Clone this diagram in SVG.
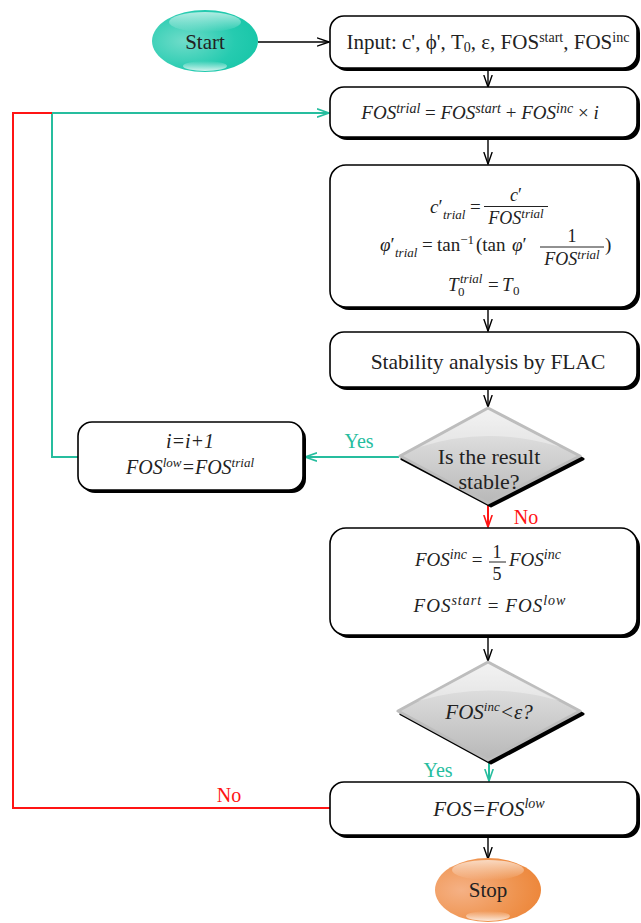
<svg xmlns="http://www.w3.org/2000/svg" width="641" height="923" viewBox="0 0 641 923">
<style>
.box{fill:#fff;stroke:#000;stroke-width:1.6}
.shd{fill:#000}
.t{font-family:"Liberation Serif","Times New Roman",serif;fill:#222}
.m{font-family:"Liberation Serif","Times New Roman",serif;font-style:italic;fill:#222}
.n{font-style:normal}
.k{stroke:#000;stroke-width:1.4;fill:none}
.g{stroke:#26bd9e;stroke-width:2;fill:none}
.r{stroke:#ff1414;stroke-width:2;fill:none}
.bar{stroke:#222;stroke-width:1}
</style>
<defs>
<marker id="ak" viewBox="0 0 13 10" refX="12" refY="5" markerWidth="13" markerHeight="10" markerUnits="userSpaceOnUse" orient="auto"><path d="M0,0.8 L12,5 L0,9.2" fill="none" stroke="#000" stroke-width="1.4"/></marker>
<marker id="ag" viewBox="0 0 13 10" refX="12" refY="5" markerWidth="13" markerHeight="10" markerUnits="userSpaceOnUse" orient="auto"><path d="M0,0.8 L12,5 L0,9.2" fill="none" stroke="#26bd9e" stroke-width="1.6"/></marker>
<marker id="ar" viewBox="0 0 13 10" refX="12" refY="5" markerWidth="13" markerHeight="10" markerUnits="userSpaceOnUse" orient="auto"><path d="M0,0.8 L12,5 L0,9.2" fill="none" stroke="#ff1414" stroke-width="1.6"/></marker>
<radialGradient id="gTeal" cx="0.3" cy="0.5" r="0.8"><stop offset="0" stop-color="#6fdcc9"/><stop offset="0.6" stop-color="#26cbb0"/><stop offset="1" stop-color="#14c4a6"/></radialGradient>
<radialGradient id="gOr" cx="0.25" cy="0.5" r="0.85"><stop offset="0" stop-color="#f5b185"/><stop offset="0.6" stop-color="#ef9450"/><stop offset="1" stop-color="#ec8233"/></radialGradient>
<linearGradient id="gHi" x1="0" y1="0" x2="0" y2="1"><stop offset="0" stop-color="#fff" stop-opacity="0.65"/><stop offset="1" stop-color="#fff" stop-opacity="0"/></linearGradient>
<linearGradient id="gHb" x1="0" y1="0" x2="0" y2="1"><stop offset="0" stop-color="#fff" stop-opacity="0"/><stop offset="1" stop-color="#fff" stop-opacity="0.8"/></linearGradient>
<linearGradient id="gDia" x1="0" y1="0" x2="0" y2="1"><stop offset="0" stop-color="#ececec"/><stop offset="0.5" stop-color="#d2d2d2"/><stop offset="1" stop-color="#b8b8b8"/></linearGradient>
</defs>

<g id="connectors">
<line class="k" x1="258" y1="42" x2="329" y2="42" marker-end="url(#ak)"/>
<line class="k" x1="488" y1="70" x2="488" y2="87" marker-end="url(#ak)"/>
<line class="k" x1="488" y1="140" x2="488" y2="164" marker-end="url(#ak)"/>
<line class="k" x1="488" y1="310" x2="488" y2="331" marker-end="url(#ak)"/>
<line class="k" x1="488" y1="390" x2="488" y2="407" marker-end="url(#ak)"/>
<line class="r" x1="488" y1="505" x2="488" y2="527" marker-end="url(#ar)"/>
<line class="g" x1="399" y1="457" x2="305" y2="457" marker-end="url(#ag)"/>
<polyline class="g" points="78,457 52,457 52,113 329,113" marker-end="url(#ag)"/>
<polyline class="r" points="330,808 13,808 13,113 52,113"/>
<line class="k" x1="488" y1="638" x2="488" y2="661" marker-end="url(#ak)"/>
<line class="g" x1="489" y1="761" x2="489" y2="781" marker-end="url(#ag)"/>
<line class="k" x1="488" y1="838" x2="488" y2="859" marker-end="url(#ak)"/>
<text class="t" x="359" y="448" font-size="20" text-anchor="middle" style="fill:#26bd9e">Yes</text>
<text class="t" x="526" y="524" font-size="20" text-anchor="middle" style="fill:#ff1414">No</text>
<text class="t" x="438" y="777" font-size="20" text-anchor="middle" style="fill:#26bd9e">Yes</text>
<text class="t" x="229" y="802" font-size="20" text-anchor="middle" style="fill:#ff1414">No</text>
</g>

<g id="start">
<ellipse cx="205" cy="41" rx="53" ry="31" fill="url(#gTeal)"/>
<ellipse cx="205" cy="22" rx="36" ry="10" fill="url(#gHi)"/>
<ellipse cx="205" cy="66" rx="22" ry="5" fill="url(#gHb)"/>
<text class="t" x="205" y="49" font-size="21" text-anchor="middle">Start</text>
</g>

<g id="input">
<rect class="shd" x="333" y="19" width="307" height="52" rx="14"/>
<rect class="box" x="330" y="16" width="307" height="52" rx="14"/>
<text class="t" x="488" y="49" font-size="21" text-anchor="middle">Input: c', ϕ', T<tspan font-size="14" baseline-shift="-3">0</tspan>, ε, FOS<tspan font-size="14" baseline-shift="7">start</tspan>, FOS<tspan font-size="14" baseline-shift="7">inc</tspan></text>
</g>

<g id="trial">
<rect class="shd" x="333" y="90" width="307" height="50" rx="14"/>
<rect class="box" x="330" y="87" width="307" height="50" rx="14"/>
<text class="m" x="480" y="119" font-size="19" text-anchor="middle">FOS<tspan font-size="14" baseline-shift="6">trial</tspan><tspan class="n"> = </tspan>FOS<tspan font-size="14" baseline-shift="6">start</tspan><tspan class="n"> + </tspan>FOS<tspan font-size="14" baseline-shift="6">inc</tspan><tspan class="n"> × </tspan>i</text>
</g>

<g id="params">
<rect class="shd" x="333" y="168" width="307" height="142" rx="16"/>
<rect class="box" x="330" y="165" width="307" height="142" rx="16"/>
<text class="m" x="430" y="213" font-size="19">c<tspan class="n">′</tspan></text>
<text class="m" x="443" y="219" font-size="13">trial</text>
<text class="t" x="470" y="213" font-size="19">=</text>
<text class="m" x="516" y="201" font-size="18" text-anchor="middle">c<tspan class="n">′</tspan></text>
<line class="bar" x1="484" y1="206.5" x2="548" y2="206.5"/>
<text class="m" x="516" y="224" font-size="18" text-anchor="middle">FOS<tspan font-size="13" baseline-shift="6">trial</tspan></text>

<text class="m" x="380" y="251" font-size="19">φ<tspan class="n">′</tspan></text>
<text class="m" x="395" y="257" font-size="13">trial</text>
<text class="t" x="422" y="251" font-size="19">=</text>
<text class="t" x="437" y="251" font-size="19">tan<tspan font-size="13" baseline-shift="7">−1</tspan></text>
<text class="t" x="476" y="251" font-size="19">(tan</text>
<text class="m" x="512" y="251" font-size="19">φ<tspan class="n">′</tspan></text>
<text class="t" x="572" y="242" font-size="18" text-anchor="middle">1</text>
<line class="bar" x1="540" y1="247" x2="604" y2="247"/>
<text class="m" x="572" y="265" font-size="18" text-anchor="middle">FOS<tspan font-size="13" baseline-shift="6">trial</tspan></text>
<text class="t" x="605" y="251" font-size="19">)</text>

<text class="m" x="448" y="291" font-size="19">T</text>
<text class="m" x="460" y="283" font-size="13">trial</text>
<text class="t" x="458" y="296" font-size="13">0</text>
<text class="t" x="488" y="291" font-size="19">=</text>
<text class="m" x="502" y="291" font-size="19">T</text>
<text class="t" x="513" y="295" font-size="13">0</text>
</g>

<g id="flac">
<rect class="shd" x="333" y="335" width="307" height="55" rx="14"/>
<rect class="box" x="330" y="332" width="307" height="55" rx="14"/>
<text class="t" x="488" y="369" font-size="21.5" text-anchor="middle">Stability analysis by FLAC</text>
</g>

<g id="stable">
<path d="M490,411 L583,459 L491,506 L402,459 Z" fill="#000" stroke="#000" stroke-width="3" stroke-linejoin="round"/>
<path d="M488,408 L580,456 L488,503 L400,456 Z" fill="url(#gDia)" stroke="#bdbdbd" stroke-width="3" stroke-linejoin="round"/>
<path d="M488,410 L560,447 Q488,425 420,447 Z" fill="#fff" opacity="0.35"/>
<text class="t" x="489" y="464" font-size="22" text-anchor="middle">Is the result</text>
<text class="t" x="489" y="489" font-size="22" text-anchor="middle">stable?</text>
</g>

<g id="increment">
<rect class="shd" x="81" y="425" width="225" height="68" rx="14"/>
<rect class="box" x="78" y="422" width="225" height="68" rx="14"/>
<text class="m" x="190" y="448" font-size="20" text-anchor="middle">i=i+1</text>
<text class="m" x="190" y="474" font-size="20" text-anchor="middle">FOS<tspan font-size="13" baseline-shift="7">low</tspan>=FOS<tspan font-size="13" baseline-shift="7">trial</tspan></text>
</g>

<g id="update">
<rect class="shd" x="333" y="531" width="307" height="107" rx="16"/>
<rect class="box" x="330" y="528" width="307" height="107" rx="16"/>
<text class="m" x="415" y="566" font-size="19">FOS<tspan font-size="14" baseline-shift="7">inc</tspan><tspan class="n"> =</tspan></text>
<text class="t" x="497" y="558" font-size="18" text-anchor="middle">1</text>
<line class="bar" x1="489" y1="562" x2="506" y2="562"/>
<text class="t" x="497" y="580" font-size="18" text-anchor="middle">5</text>
<text class="m" x="509" y="566" font-size="19">FOS<tspan font-size="14" baseline-shift="7">inc</tspan></text>
<text class="m" x="490" y="612" font-size="19" letter-spacing="1" text-anchor="middle">FOS<tspan font-size="14" baseline-shift="7">start</tspan><tspan class="n"> = </tspan>FOS<tspan font-size="14" baseline-shift="7">low</tspan></text>
</g>

<g id="converge">
<path d="M490,665 L583,714 L491,763 L401,714 Z" fill="#000" stroke="#000" stroke-width="3" stroke-linejoin="round"/>
<path d="M488,662 L580,711 L488,760 L398,711 Z" fill="url(#gDia)" stroke="#bdbdbd" stroke-width="3" stroke-linejoin="round"/>
<path d="M488,664 L560,701 Q488,680 418,701 Z" fill="#fff" opacity="0.35"/>
<text class="m" x="489" y="719" font-size="21" text-anchor="middle">FOS<tspan font-size="13" baseline-shift="8">inc</tspan>&lt;ε?</text>
</g>

<g id="result">
<rect class="shd" x="333" y="785" width="307" height="53" rx="14"/>
<rect class="box" x="330" y="782" width="307" height="53" rx="14"/>
<text class="m" x="489" y="816" font-size="21" text-anchor="middle">FOS=FOS<tspan font-size="14" baseline-shift="8">low</tspan></text>
</g>

<g id="stop">
<ellipse cx="488" cy="890" rx="53" ry="32" fill="url(#gOr)"/>
<ellipse cx="488" cy="870" rx="36" ry="10" fill="url(#gHi)"/>
<ellipse cx="488" cy="916" rx="22" ry="5" fill="url(#gHb)"/>
<text class="t" x="488" y="897" font-size="21" text-anchor="middle">Stop</text>
</g>
</svg>
